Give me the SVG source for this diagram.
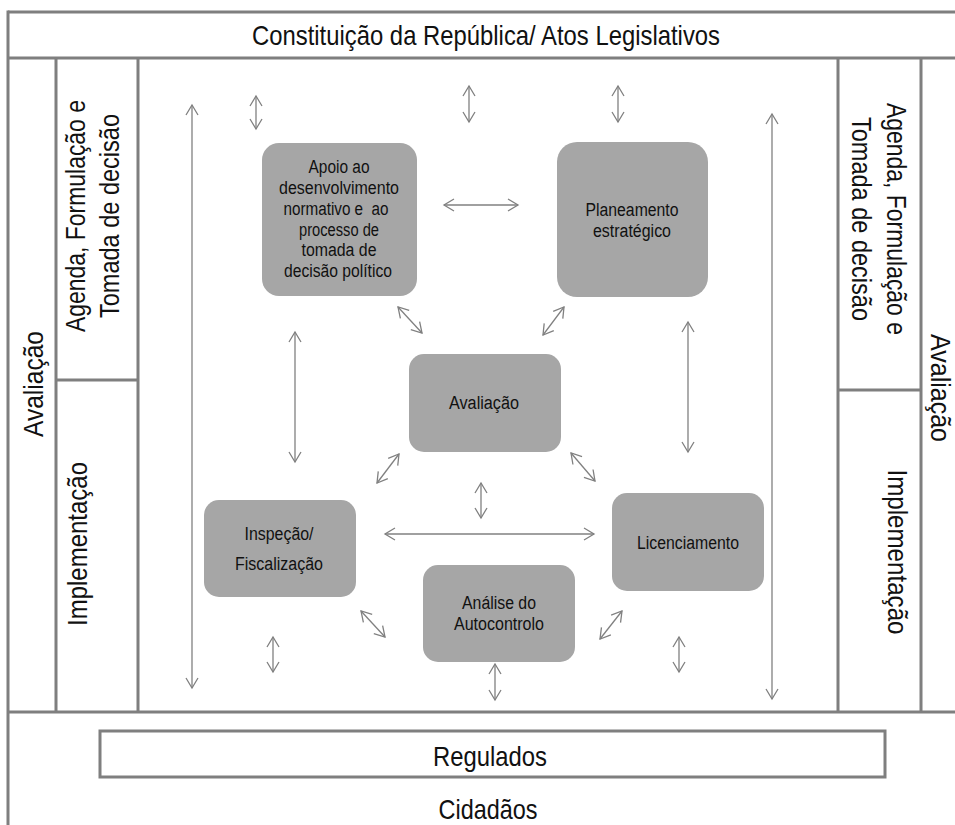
<svg xmlns="http://www.w3.org/2000/svg" width="955" height="825" viewBox="0 0 955 825">
  <style>
    .frame { fill: none; stroke: #7f7f7f; stroke-width: 3; }
    .node rect { fill: #a6a6a6; }
    .node text { font-family: "Liberation Sans Narrow", "Liberation Sans", Arial, sans-serif; font-size: 18px; fill: #111; text-anchor: middle; }
    .big { font-family: "Liberation Sans Narrow", "Liberation Sans", Arial, sans-serif; font-size: 28px; fill: #111; text-anchor: middle; }
    .link { fill: none; stroke: #808080; stroke-width: 1.3; marker-start: url(#head); marker-end: url(#head); }
  </style>
  <defs>
    <marker id="head" viewBox="-12 -8 14 16" refX="0" refY="0" markerWidth="14" markerHeight="16" markerUnits="userSpaceOnUse" orient="auto-start-reverse">
      <path d="M-10,-6 L0,0 L-10,6" fill="none" stroke="#808080" stroke-width="1.3"/>
    </marker>
  </defs>

  <rect width="955" height="825" fill="#ffffff"/>

  <!-- outer frame and columns -->
  <g id="frame" class="frame">
    <line x1="8" y1="12" x2="955" y2="12"/>
    <line x1="8" y1="10.5" x2="8" y2="825"/>
    <line x1="8" y1="58" x2="955" y2="58"/>
    <line x1="56" y1="58" x2="56" y2="712"/>
    <line x1="138" y1="58" x2="138" y2="712"/>
    <line x1="838" y1="58" x2="838" y2="712"/>
    <line x1="921" y1="58" x2="921" y2="712"/>
    <line x1="56" y1="380" x2="138" y2="380"/>
    <line x1="838" y1="390" x2="921" y2="390"/>
    <line x1="8" y1="712" x2="955" y2="712"/>
  </g>

  <g id="constituicao">
    <text class="big" x="486" y="45" textLength="468" lengthAdjust="spacingAndGlyphs">Constituição da República/ Atos Legislativos</text>
  </g>

  <!-- left side labels -->
  <g id="avaliacao-esq">
    <text class="big" transform="translate(43,384) rotate(-90)" textLength="106" lengthAdjust="spacingAndGlyphs">Avaliação</text>
  </g>
  <g id="agenda-esq">
    <text class="big" transform="translate(85,216) rotate(-90)" textLength="232" lengthAdjust="spacingAndGlyphs">Agenda, Formulação e</text>
    <text class="big" transform="translate(119,216) rotate(-90)" textLength="204" lengthAdjust="spacingAndGlyphs">Tomada de decisão</text>
  </g>
  <g id="implementacao-esq">
    <text class="big" transform="translate(87,544) rotate(-90)" textLength="164" lengthAdjust="spacingAndGlyphs">Implementação</text>
  </g>

  <!-- right side labels -->
  <g id="agenda-dir">
    <text class="big" transform="translate(887,219) rotate(90)" textLength="232" lengthAdjust="spacingAndGlyphs">Agenda, Formulação e</text>
    <text class="big" transform="translate(852,219) rotate(90)" textLength="204" lengthAdjust="spacingAndGlyphs">Tomada de decisão</text>
  </g>
  <g id="avaliacao-dir">
    <text class="big" transform="translate(931,388) rotate(90)" textLength="108" lengthAdjust="spacingAndGlyphs">Avaliação</text>
  </g>
  <g id="implementacao-dir">
    <text class="big" transform="translate(888,552) rotate(90)" textLength="165" lengthAdjust="spacingAndGlyphs">Implementação</text>
  </g>

  <!-- process nodes -->
  <g id="apoio" class="node">
    <rect x="262" y="143" width="155" height="153" rx="17"/>
    <text x="339" y="173" textLength="61" lengthAdjust="spacingAndGlyphs">Apoio ao</text>
    <text x="339" y="194" textLength="120" lengthAdjust="spacingAndGlyphs">desenvolvimento</text>
    <text x="336" y="215" textLength="105" lengthAdjust="spacingAndGlyphs" xml:space="preserve">normativo e  ao</text>
    <text x="339" y="236" textLength="80" lengthAdjust="spacingAndGlyphs">processo de</text>
    <text x="339" y="256" textLength="75" lengthAdjust="spacingAndGlyphs">tomada de</text>
    <text x="338" y="277" textLength="108" lengthAdjust="spacingAndGlyphs">decisão político</text>
  </g>
  <g id="planeamento" class="node">
    <rect x="557" y="142" width="151" height="155" rx="20"/>
    <text x="632" y="216" textLength="93" lengthAdjust="spacingAndGlyphs">Planeamento</text>
    <text x="632" y="237" textLength="78" lengthAdjust="spacingAndGlyphs">estratégico</text>
  </g>
  <g id="avaliacao" class="node">
    <rect x="409" y="354" width="152" height="98" rx="15"/>
    <text x="484" y="409" textLength="70" lengthAdjust="spacingAndGlyphs">Avaliação</text>
  </g>
  <g id="inspecao" class="node">
    <rect x="204" y="500" width="152" height="97" rx="15"/>
    <text x="279" y="540" textLength="69" lengthAdjust="spacingAndGlyphs">Inspeção/</text>
    <text x="279" y="570" textLength="88" lengthAdjust="spacingAndGlyphs">Fiscalização</text>
  </g>
  <g id="licenciamento" class="node">
    <rect x="612" y="493" width="152" height="98" rx="15"/>
    <text x="688" y="549" textLength="102" lengthAdjust="spacingAndGlyphs">Licenciamento</text>
  </g>
  <g id="analise" class="node">
    <rect x="423" y="565" width="152" height="97" rx="15"/>
    <text x="499" y="609" textLength="74" lengthAdjust="spacingAndGlyphs">Análise do</text>
    <text x="499" y="630" textLength="90" lengthAdjust="spacingAndGlyphs">Autocontrolo</text>
  </g>

  <!-- stakeholder bands -->
  <g id="regulados">
    <rect class="frame" x="100" y="731" width="785" height="46"/>
    <text class="big" x="490" y="766" textLength="114" lengthAdjust="spacingAndGlyphs">Regulados</text>
  </g>
  <g id="cidadaos">
    <text class="big" x="488" y="819" textLength="99" lengthAdjust="spacingAndGlyphs">Cidadãos</text>
  </g>

  <!-- two-way connectors -->
  <g id="connectors">
    <line class="link" x1="192" y1="105" x2="192" y2="688"/>
    <line class="link" x1="772" y1="114" x2="772" y2="699"/>
    <line class="link" x1="256" y1="96" x2="256" y2="129"/>
    <line class="link" x1="469" y1="86" x2="469" y2="122"/>
    <line class="link" x1="618" y1="86" x2="618" y2="122"/>
    <line class="link" x1="295" y1="332" x2="295" y2="462"/>
    <line class="link" x1="688" y1="322" x2="688" y2="452"/>
    <line class="link" x1="481" y1="483" x2="481" y2="518"/>
    <line class="link" x1="273" y1="637" x2="273" y2="672"/>
    <line class="link" x1="679" y1="637" x2="679" y2="672"/>
    <line class="link" x1="495" y1="664" x2="495" y2="700"/>
    <line class="link" x1="444" y1="205" x2="518" y2="205"/>
    <line class="link" x1="385" y1="534" x2="594" y2="534"/>
    <line class="link" x1="398" y1="307" x2="422" y2="333"/>
    <line class="link" x1="564" y1="307" x2="543" y2="335"/>
    <line class="link" x1="399" y1="454" x2="377" y2="483"/>
    <line class="link" x1="571" y1="453" x2="595" y2="481"/>
    <line class="link" x1="361" y1="611" x2="385" y2="637"/>
    <line class="link" x1="622" y1="611" x2="600" y2="639"/>
  </g>
</svg>
